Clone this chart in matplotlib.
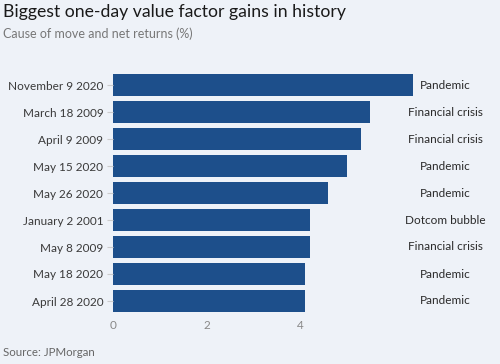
import matplotlib
matplotlib.use("Agg")
import matplotlib.pyplot as plt

dates = ["November 9 2020", "March 18 2009", "April 9 2009", "May 15 2020",
         "May 26 2020", "January 2 2001", "May 8 2009", "May 18 2020", "April 28 2020"]
returns = [6.42, 5.5, 5.3, 5.0, 4.6, 4.21, 4.21, 4.1, 4.1]
causes = ["Pandemic", "Financial crisis", "Financial crisis", "Pandemic", "Pandemic",
          "Dotcom bubble", "Financial crisis", "Pandemic", "Pandemic"]
xticks = [0, 2, 4]

plt.rcParams['font.family'] = ['Lato', 'DejaVu Sans']
bg = "#eef2f8"
fig = plt.figure(figsize=(5, 3.64), dpi=100, facecolor=bg)
W, H = 500, 364
left, right, top, bottom = 113, 415, 71.5, 314.5
ax = fig.add_axes([left / W, 1 - bottom / H, (right - left) / W, (bottom - top) / H])
ax.set_facecolor(bg)

y = list(range(len(dates)))
ax.barh(y, returns, height=0.8, color="#1d4f8b")
ax.set_ylim(len(dates) - 0.5, -0.5)
ax.set_xlim(0, (right - left) / 46.75)
ax.set_yticks(y)
ax.set_yticklabels(dates, fontsize=8.5, color="#3a3a3a")
ax.set_xticks(xticks)
ax.set_xticklabels([str(t) for t in xticks], fontsize=8.5, color="#888888")
ax.tick_params(axis='y', length=4, color="#cccccc", pad=3)
ax.tick_params(axis='x', length=0, pad=4)
for s in ax.spines.values():
    s.set_visible(False)

for yi, c in zip(y, causes):
    ax.text(1.1, yi, c, transform=ax.get_yaxis_transform(), ha='center', va='center',
            fontsize=8.5, color="#2a2a2a")

fig.text(3 / W, 1 - 12 / H, "Biggest one-day value factor gains in history", fontsize=12.7,
         color="#1a1a1a", va='center', ha='left')
fig.text(3 / W, 1 - 34 / H, "Cause of move and net returns (%)", fontsize=9,
         color="#777777", va='center', ha='left')
fig.text(3 / W, 1 - 352 / H, "Source: JPMorgan", fontsize=8.3, color="#666666",
         va='center', ha='left')

fig.savefig("out.png", dpi=100, facecolor=bg)
